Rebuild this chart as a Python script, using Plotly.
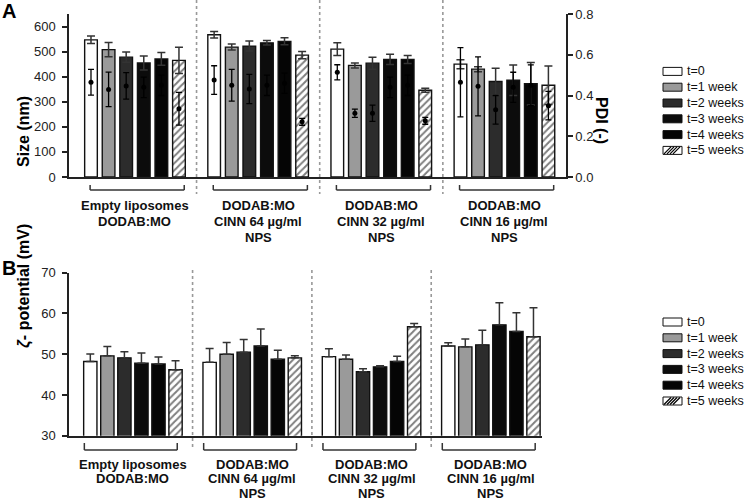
import plotly.graph_objects as go

# ---------------- data ----------------
groups = ["Empty liposomes<br>DODAB:MO",
          "DODAB:MO<br>CINN 64 µg/ml<br>NPS",
          "DODAB:MO<br>CINN 32 µg/ml<br>NPS",
          "DODAB:MO<br>CINN 16 µg/ml<br>NPS"]
series = ["t=0", "t=1 week", "t=2 weeks", "t=3 weeks", "t=4 weeks", "t=5 weeks"]

# Size (nm)
size_t0 = [547, 567, 510, 450]
size_t1 = [508, 518, 445, 430]
size_t2 = [478, 522, 454, 381]
size_t3 = [455, 535, 469, 386]
size_t4 = [471, 541, 469, 372]
size_t5 = [465, 486, 346, 366]
size_err_t0 = [15, 13, 25, 18]
size_err_t1 = [28, 12, 10, 10]
size_err_t2 = [20, 20, 24, 53]
size_err_t3 = [28, 9, 20, 61]
size_err_t4 = [25, 14, 16, 85]
size_err_t5 = [52, 14, 8, 77]

# PDI (-)
pdi_t0 = [0.465, 0.476, 0.514, 0.465]
pdi_t1 = [0.430, 0.450, 0.313, 0.445]
pdi_t2 = [0.447, 0.432, 0.313, 0.330]
pdi_t3 = [0.440, 0.450, 0.440, 0.440]
pdi_t4 = [0.450, 0.460, 0.450, 0.450]
pdi_t5 = [0.335, 0.271, 0.276, 0.350]
pdi_err_t0 = [0.063, 0.070, 0.037, 0.170]
pdi_err_t1 = [0.085, 0.078, 0.020, 0.145]
pdi_err_t2 = [0.065, 0.072, 0.040, 0.070]
pdi_err_t3 = [0.050, 0.050, 0.050, 0.074]
pdi_err_t4 = [0.050, 0.050, 0.050, 0.100]
pdi_err_t5 = [0.080, 0.017, 0.017, 0.070]

# Zeta potential (mV)
zeta_t0 = [48.2, 48.0, 49.4, 52.0]
zeta_t1 = [49.6, 50.0, 48.75, 51.8]
zeta_t2 = [49.1, 50.5, 45.7, 52.3]
zeta_t3 = [47.8, 52.0, 46.9, 57.2]
zeta_t4 = [47.6, 48.75, 48.2, 55.6]
zeta_t5 = [46.2, 49.1, 56.75, 54.3]
zeta_err_t0 = [1.85, 3.4, 1.96, 0.8]
zeta_err_t1 = [2.3, 2.85, 1.05, 1.9]
zeta_err_t2 = [1.5, 3.1, 0.74, 3.6]
zeta_err_t3 = [2.5, 4.2, 0.25, 5.4]
zeta_err_t4 = [1.7, 2.2, 1.3, 4.6]
zeta_err_t5 = [2.2, 0.5, 0.8, 7.1]

size_ticks = [0, 100, 200, 300, 400, 500, 600]
pdi_ticks = [0.0, 0.2, 0.4, 0.6, 0.8]
zeta_ticks = [30, 40, 50, 60, 70]

size_vals = [size_t0, size_t1, size_t2, size_t3, size_t4, size_t5]
size_errs = [size_err_t0, size_err_t1, size_err_t2, size_err_t3, size_err_t4, size_err_t5]
pdi_vals = [pdi_t0, pdi_t1, pdi_t2, pdi_t3, pdi_t4, pdi_t5]
pdi_errs = [pdi_err_t0, pdi_err_t1, pdi_err_t2, pdi_err_t3, pdi_err_t4, pdi_err_t5]
zeta_vals = [zeta_t0, zeta_t1, zeta_t2, zeta_t3, zeta_t4, zeta_t5]
zeta_errs = [zeta_err_t0, zeta_err_t1, zeta_err_t2, zeta_err_t3, zeta_err_t4, zeta_err_t5]

# ---------------- styling ----------------
fills = ["#ffffff", "#9a9a9a", "#2c2c2c", "#0c0c0c", "#050505", "#ffffff"]
patterns = ["", "", "", "", "", "/"]
FONT = "Arial, Liberation Sans, sans-serif"
W, H = 750, 502
STEP = len(series) + 1                 # slot per group (6 bars + 1 gap)


def px_x(p):
    """pixel x -> paper fraction"""
    return p / W


def px_y(p):
    """pixel y (from top) -> paper fraction"""
    return 1 - p / H


def bar_marker(i):
    m = dict(color=fills[i], line=dict(color="#111111", width=1.4))
    if patterns[i]:
        m["pattern"] = dict(shape=patterns[i], fgcolor="#000000", bgcolor="#ffffff",
                            size=5, solidity=0.4)
    return m


fig = go.Figure()
ngroups = len(groups)

for i, name in enumerate(series):
    xs = [STEP * g + i for g in range(ngroups)]
    fig.add_trace(go.Bar(
        x=xs, y=size_vals[i], name=name, width=0.72, marker=bar_marker(i),
        error_y=dict(type="data", array=size_errs[i], symmetric=True,
                     color="#333333", thickness=1.5, width=4),
        xaxis="x", yaxis="y", showlegend=False))

for i, name in enumerate(series):
    xs = [STEP * g + i for g in range(ngroups)]
    fig.add_trace(go.Scatter(
        x=xs, y=pdi_vals[i], mode="markers", name=name + " PDI",
        marker=dict(color="#000000", size=5),
        error_y=dict(type="data", array=pdi_errs[i], symmetric=True,
                     color="#000000", thickness=1.3, width=3),
        xaxis="x", yaxis="y2", showlegend=False))

for i, name in enumerate(series):
    xs = [STEP * g + i for g in range(ngroups)]
    fig.add_trace(go.Bar(
        x=xs, y=zeta_vals[i], name=name, width=0.78, marker=bar_marker(i),
        error_y=dict(type="data", array=zeta_errs[i], arrayminus=[0] * ngroups,
                     symmetric=False, color="#333333", thickness=1.5, width=4),
        xaxis="x2", yaxis="y3", showlegend=False))

group_centers = [STEP * g + (len(series) - 1) / 2 for g in range(ngroups)]

shapes = []
annotations = []

# separators and brackets
for g in range(1, ngroups):
    sx = STEP * g - 1
    shapes.append(dict(type="line", xref="x", yref="paper", x0=sx, x1=sx,
                       y0=1, y1=px_y(194),
                       line=dict(color="#999999", width=1.6, dash="dot")))
    shapes.append(dict(type="line", xref="x2", yref="paper", x0=sx, x1=sx,
                       y0=px_y(270), y1=px_y(448),
                       line=dict(color="#999999", width=1.6, dash="dot")))
for g in range(ngroups):
    for xr, a, b, yb, yt in [("x", -0.05, 5.3, 190, 185), ("x2", -0.35, 5.1, 450, 443)]:
        x0 = STEP * g + a
        x1 = STEP * g + b
        lc = dict(color="#333333", width=1.5)
        shapes.append(dict(type="line", xref=xr, yref="paper", x0=x0, x1=x1,
                           y0=px_y(yb), y1=px_y(yb), line=lc))
        shapes.append(dict(type="line", xref=xr, yref="paper", x0=x0, x1=x0,
                           y0=px_y(yb), y1=px_y(yt), line=lc))
        shapes.append(dict(type="line", xref=xr, yref="paper", x0=x1, x1=x1,
                           y0=px_y(yb), y1=px_y(yt), line=lc))

# category labels (one annotation per text line)
for xr, first, gap in [("x", 205, 16), ("x2", 464, 14.5)]:
    for g, label in enumerate(groups):
        for k, line in enumerate(label.split("<br>")):
            annotations.append(dict(
                text="<b>" + line + "</b>", x=group_centers[g], xref=xr,
                y=px_y(first + k * gap), yref="paper", yanchor="middle",
                showarrow=False, font=dict(size=13, color="#111111", family=FONT)))

# legends (compact spacing as in the reference)
for top in [71.4, 322]:
    for i, name in enumerate(series):
        cy = top + i * 15.8
        x0, x1 = 663, 682
        y0, y1 = cy - 4, cy + 4
        shapes.append(dict(type="rect", xref="paper", yref="paper",
                           x0=px_x(x0), x1=px_x(x1), y0=px_y(y1), y1=px_y(y0),
                           fillcolor=fills[i], line=dict(color="#111111", width=1)))
        if patterns[i]:
            for k in range(0, 12, 3):
                shapes.append(dict(type="line", xref="paper", yref="paper",
                                   x0=px_x(x0 + k + 1), y0=px_y(y1 - 0.5),
                                   x1=px_x(x0 + k + 8), y1=px_y(y0 + 0.5),
                                   line=dict(color="#000000", width=1.2)))
        annotations.append(dict(text=name, x=px_x(685), y=px_y(cy), xref="paper",
                                yref="paper", xanchor="left", yanchor="middle",
                                showarrow=False,
                                font=dict(size=12.5, color="#111111", family=FONT)))

annotations += [
    dict(text="<b>A</b>", x=0, y=px_y(11), xref="paper", yref="paper",
         xanchor="left", yanchor="middle", showarrow=False, font=dict(size=20, color="#000")),
    dict(text="<b>B</b>", x=0, y=px_y(268), xref="paper", yref="paper",
         xanchor="left", yanchor="middle", showarrow=False, font=dict(size=20, color="#000")),
    dict(text="<b>Size (nm)</b>", x=px_x(13), y=px_y(94), xref="paper", yref="paper",
         textangle=-90, showarrow=False, font=dict(size=16, color="#000")),
    dict(text="<b>PDI (-)</b>", x=px_x(612), y=px_y(95), xref="paper", yref="paper",
         textangle=90, showarrow=False, font=dict(size=16, color="#000")),
    dict(text="<b><i>ζ</i>- potential (mV)</b>", x=px_x(13), y=px_y(350), xref="paper",
         yref="paper", textangle=-90, showarrow=False, font=dict(size=16, color="#000")),
]

tickfont = dict(size=13, color="#222222", family=FONT)
axis_common = dict(showline=True, linecolor="#222222", linewidth=1.5, showgrid=False,
                   zeroline=False, automargin=False)

fig.update_layout(
    width=W, height=H,
    margin=dict(l=0, r=0, t=0, b=0),
    paper_bgcolor="#ffffff", plot_bgcolor="rgba(0,0,0,0)",
    font=dict(family=FONT, color="#000"),
    barmode="overlay",
    showlegend=False,
    hovermode=False,
    xaxis=dict(domain=[px_x(69), px_x(566)], range=[-1.25, 27.0], anchor="y",
               showticklabels=False, ticks="", **axis_common),
    yaxis=dict(domain=[px_y(177), px_y(14)], range=[0, 650], anchor="x",
               tickmode="array", tickvals=size_ticks, ticks="outside", ticklen=5,
               tickwidth=1.5, tickcolor="#222222", tickfont=tickfont,
               ticklabelstandoff=4, **axis_common),
    yaxis2=dict(range=[0, 0.8], overlaying="y", side="right", anchor="x",
                tickmode="array", tickvals=pdi_ticks, tickformat=".1f",
                ticks="outside", ticklen=5, tickwidth=1.5, tickcolor="#222222",
                tickfont=tickfont, **axis_common),
    xaxis2=dict(domain=[px_x(69), px_x(542)], range=[-1.25, 26.5], anchor="y3",
                showticklabels=False, ticks="", **axis_common),
    yaxis3=dict(domain=[px_y(435.7), px_y(272.7)], range=[30, 70], anchor="x2",
                tickmode="array", tickvals=zeta_ticks, ticks="outside", ticklen=5,
                tickwidth=1.5, tickcolor="#222222", tickfont=tickfont,
                ticklabelstandoff=4, **axis_common),
    shapes=shapes,
    annotations=annotations,
)

# the page body normally has an 8px margin; remove it so the figure fills the window
fig.write_html("out.html",
               config={"displayModeBar": False},
               post_script="document.body.style.margin='0';"
                           "document.body.style.overflow='hidden';")
